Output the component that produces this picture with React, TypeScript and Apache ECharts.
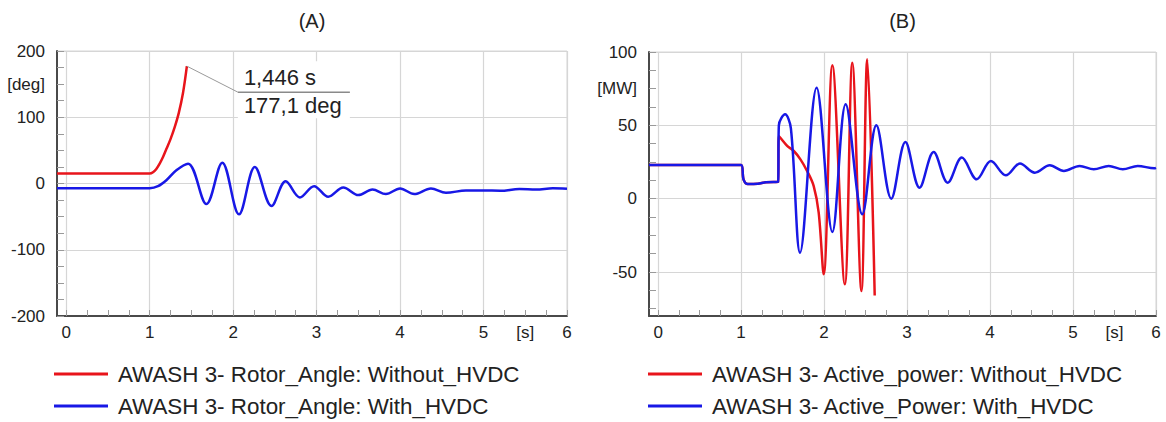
import React, { useEffect, useRef } from "react";
import * as echarts from "echarts";

// ---------- data ----------
const xMin = -0.11;
const xMax = 6;

// (A) Rotor angle [deg]
const timeAngleWithout = [-0.11, 1.0, 1.04, 1.08, 1.12, 1.16, 1.2, 1.25, 1.3, 1.35, 1.4, 1.446];
const angleWithout = [15, 15, 17, 22, 30, 40, 52, 67, 85, 107, 137, 177.1];

const timeAngleWith = [-0.11, 1.0, 1.1, 1.2, 1.32, 1.46, 1.68, 1.87, 2.07, 2.26, 2.46, 2.63, 2.8, 2.97, 3.14, 3.32, 3.5, 3.67, 3.83, 4.0, 4.17, 4.37, 4.55, 4.79, 5.0, 5.2, 5.43, 5.63, 5.83, 6.0];
const angleWith = [-7, -7, -4, 5, 20, 30, -31, 31.5, -46.5, 25, -34, 3.5, -21, -4, -20, -6, -17.5, -9, -16, -7.5, -16, -7.5, -14, -10.5, -10.5, -11, -8.3, -9, -7.3, -8];

// (B) Active power [MW]
const timePowerWithout = [-0.11, 1.0, 1.03, 1.08, 1.2, 1.3, 1.445, 1.455, 1.555, 1.635, 1.715, 1.795, 1.875, 1.935, 1.995, 2.1, 2.25, 2.34, 2.45, 2.52, 2.61];
const powerWithout = [23, 23, 13, 10, 10.2, 11.2, 11.4, 42.7, 36, 32.5, 26.8, 18.9, 8.6, -9.5, -51.6, 91, -58.4, 92.7, -63, 95, -66];

const timePowerWith = [-0.11, 1.0, 1.03, 1.08, 1.2, 1.3, 1.445, 1.455, 1.53, 1.6, 1.71, 1.91, 2.1, 2.26, 2.46, 2.63, 2.81, 2.98, 3.15, 3.32, 3.49, 3.66, 3.84, 4.01, 4.19, 4.36, 4.54, 4.72, 4.89, 5.08, 5.25, 5.43, 5.6, 5.78, 5.98, 6.0];
const powerWith = [23, 23, 13, 10, 10.2, 11.2, 11.4, 50, 57.5, 48, -36.8, 75.7, -22.7, 64.3, -10.7, 50, 0, 38.6, 7.5, 31.8, 10.9, 28, 13.2, 25.7, 15.9, 23.9, 17.7, 22.7, 18.9, 22.3, 20, 22.3, 20, 22.3, 20.7, 21];

// annotation (marker on the red rotor-angle curve)
const annotTime = 1.446;
const annotAngle = 177.1;

// axis values
const xLabelValues = [0, 1, 2, 3, 4, 5, 5.5, 6];
const xGridValues = [0, 1, 2, 3, 4, 5, 6];
const xTickValues = [0, 0.25, 0.5, 0.75, 1, 1.25, 1.5, 1.75, 2, 2.25, 2.5, 2.75, 3, 3.25, 3.5, 3.75, 4, 4.25, 4.5, 4.75, 5, 5.25, 5.5, 5.75, 6];
const angleLabelValues = [-200, -100, 0, 100, 150, 200];
const angleGridValues = [-200, -100, 0, 100, 200];
const angleTickValues = [-200, -175, -150, -125, -100, -75, -50, -25, 0, 25, 50, 75, 100, 125, 150, 175, 200];
const powerLabelValues = [-50, 0, 50, 75, 100];
const powerGridValues = [-50, 0, 50, 100];
const powerTickValues = [-75, -62.5, -50, -37.5, -25, -12.5, 0, 12.5, 25, 37.5, 50, 62.5, 75, 87.5, 100];

const nameAWithout = "AWASH 3- Rotor_Angle: Without_HVDC";
const nameAWith = "AWASH 3- Rotor_Angle: With_HVDC";
const nameBWithout = "AWASH 3- Active_power: Without_HVDC";
const nameBWith = "AWASH 3- Active_Power: With_HVDC";

// ---------- style ----------
const FONT = "'Liberation Sans', Arial, Helvetica, sans-serif";
const RED = "#e8141b";
const BLUE = "#1818e6";
const TEXT = "#222222";
const GRID = "#d6d6d6";
const AXIS = "#4a4a4a";
const TICK = "#9a9a9a";

const zip = (t: number[], v: number[]) => t.map((x, i) => [x, v[i]]);

const gridA = { left: 57, right: 599, top: 51, bottom: 106 };
const gridB = { left: 649, right: 10, top: 52, bottom: 106 };

function mainX(gridIndex: number) {
  return {
    type: "value",
    gridIndex,
    min: xMin,
    max: xMax,
    position: "bottom",
    axisLine: { show: true, onZero: false, lineStyle: { color: AXIS, width: 2 } },
    axisTick: { show: true, inside: true, length: 6, customValues: xTickValues, lineStyle: { color: TICK, width: 1 } },
    axisLabel: {
      show: true,
      customValues: xLabelValues,
      margin: 8,
      fontSize: 17,
      color: TEXT,
      fontFamily: FONT,
      formatter: (v: number) => (v === 5.5 ? "[s]" : String(v)),
    },
    splitLine: { show: false },
  };
}
function gridX(gridIndex: number) {
  return {
    type: "value",
    gridIndex,
    min: xMin,
    max: xMax,
    position: "top",
    axisLine: { show: false },
    axisTick: { show: false, customValues: xGridValues },
    axisLabel: { show: false },
    splitLine: { show: true, lineStyle: { color: GRID, width: 1.2 } },
  };
}
function mainY(gridIndex: number, min: number, max: number, ticks: number[], labels: number[], unitValue: number, unit: string) {
  return {
    type: "value",
    gridIndex,
    min,
    max,
    position: "left",
    axisLine: { show: true, onZero: false, lineStyle: { color: AXIS, width: 2 } },
    axisTick: { show: true, inside: true, length: 7, customValues: ticks, lineStyle: { color: TICK, width: 1 } },
    axisLabel: {
      show: true,
      customValues: labels,
      margin: 12,
      fontSize: 17,
      color: TEXT,
      fontFamily: FONT,
      formatter: (v: number) => (v === unitValue ? unit : String(v)),
    },
    splitLine: { show: false },
  };
}
function gridY(gridIndex: number, min: number, max: number, values: number[]) {
  return {
    type: "value",
    gridIndex,
    min,
    max,
    position: "right",
    axisLine: { show: false },
    axisTick: { show: false, customValues: values },
    axisLabel: { show: false },
    splitLine: { show: true, lineStyle: { color: GRID, width: 1.2 } },
  };
}
function lineSeries(name: string, t: number[], v: number[], color: string, axis: number, z: number) {
  return {
    type: "line",
    name,
    xAxisIndex: axis,
    yAxisIndex: axis,
    data: zip(t, v),
    showSymbol: false,
    symbol: "none",
    smooth: 0.35,
    lineStyle: { color, width: 2.5 },
    itemStyle: { color },
    z,
  };
}
function legend(left: number, names: string[]) {
  return {
    data: names,
    orient: "vertical",
    left,
    top: 363,
    padding: 0,
    itemWidth: 54,
    itemHeight: 3,
    itemGap: 10,
    icon: "rect",
    selectedMode: false,
    textStyle: { fontSize: 22.4, color: TEXT, fontFamily: FONT, lineHeight: 22, padding: [0, 0, 0, 5] },
  };
}

export default function App() {
  const ref = useRef<HTMLDivElement>(null);

  useEffect(() => {
    if (!ref.current) return;
    const chart = echarts.init(ref.current, undefined, { renderer: "svg" });
    chart.setOption({
      animation: false,
      backgroundColor: "#ffffff",
      grid: [
        { ...gridA, show: true, borderColor: GRID, borderWidth: 1, backgroundColor: "transparent" },
        { ...gridB, show: true, borderColor: GRID, borderWidth: 1, backgroundColor: "transparent" },
      ],
      xAxis: [mainX(0), gridX(0), mainX(1), gridX(1)],
      yAxis: [
        mainY(0, -200, 200, angleTickValues, angleLabelValues, 150, "[deg]"),
        gridY(0, -200, 200, angleGridValues),
        mainY(1, -80, 100, powerTickValues, powerLabelValues, 75, "[MW]"),
        gridY(1, -80, 100, powerGridValues),
      ],
      legend: [legend(54, [nameAWithout, nameAWith]), legend(648, [nameBWithout, nameBWith])],
      series: [
        lineSeries(nameAWithout, timeAngleWithout, angleWithout, RED, 0, 3),
        lineSeries(nameAWith, timeAngleWith, angleWith, BLUE, 0, 4),
        lineSeries(nameBWithout, timePowerWithout, powerWithout, RED, 2, 3),
        lineSeries(nameBWith, timePowerWith, powerWith, BLUE, 2, 4),
      ],
    });

    const p = chart.convertToPixel({ xAxisIndex: 0, yAxisIndex: 0 }, [annotTime, annotAngle]) as number[];
    const bx = p[0] + 51;
    const by = p[1] + 26;
    const titleY = 21;
    const centerA = gridA.left + (1166 - gridA.right - gridA.left) / 2;
    const centerB = gridB.left + (1166 - gridB.right - gridB.left) / 2;
    chart.setOption({
      graphic: [
        { type: "text", x: centerA, y: titleY, z: 100, style: { text: "(A)", fontSize: 20, fill: TEXT, fontFamily: FONT, align: "center", verticalAlign: "middle" } },
        { type: "text", x: centerB, y: titleY, z: 100, style: { text: "(B)", fontSize: 20, fill: TEXT, fontFamily: FONT, align: "center", verticalAlign: "middle" } },
        { type: "rect", z: 90, shape: { x: bx, y: by - 31, width: 112, height: 57 }, style: { fill: "#ffffff" } },
        { type: "line", z: 95, shape: { x1: p[0], y1: p[1], x2: bx, y2: by }, style: { stroke: "#9a9a9a", lineWidth: 1 } },
        { type: "line", z: 95, shape: { x1: bx, y1: by, x2: bx + 112, y2: by }, style: { stroke: "#8a8a8a", lineWidth: 1.5 } },
        { type: "text", z: 100, x: bx + 6, y: by - 15, style: { text: annotTime.toFixed(3).replace(".", ",") + " s", fontSize: 22, fill: TEXT, fontFamily: FONT, align: "left", verticalAlign: "middle" } },
        { type: "text", z: 100, x: bx + 6, y: by + 13, style: { text: annotAngle.toFixed(1).replace(".", ",") + " deg", fontSize: 22, fill: TEXT, fontFamily: FONT, align: "left", verticalAlign: "middle" } },
      ],
    });

    return () => chart.dispose();
  }, []);

  return <div ref={ref} style={{ position: "absolute", left: 0, top: 0, width: 1166, height: 422 }} />;
}
